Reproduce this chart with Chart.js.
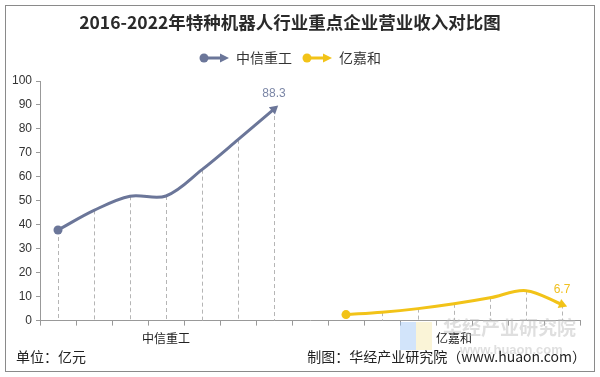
<!DOCTYPE html>
<html>
<head>
<meta charset="utf-8">
<script src="https://cdn.jsdelivr.net/npm/chart.js@4"></script>
<style>
  html, body { margin: 0; padding: 0; background: #fff; }
  #wrap { width: 600px; height: 377px; position: relative; }
</style>
</head>
<body>
<div id="wrap"><canvas id="chart-revenue" width="600" height="377"></canvas></div>
<script>
{ // scoping

  const years = ['2016', '2017', '2018', '2019', '2020', '2021', '2022'];
  const companies = ['中信重工', '亿嘉和'];
  const zxzgValues = [37.8, 46.0, 51.9, 52.0, 63.0, 75.5, 88.3];   // 中信重工
  const yjhValues = [2.5, 3.5, 5.0, 7.0, 9.5, 12.5, 6.7];          // 亿嘉和
  const yTicks = [0, 10, 20, 30, 40, 50, 60, 70, 80, 90, 100];
  const colors = ['#6b7699', '#f2c318'];

  // 15 slots: 7 years, one empty gap, 7 years
  const labels = [];
  years.forEach(y => labels.push(companies[0] + ' ' + y));
  labels.push('');
  years.forEach(y => labels.push(companies[1] + ' ' + y));
  const gap = years.length + 1;

  const zxzgData = zxzgValues.concat(new Array(gap).fill(null));
  const yjhData = new Array(gap).fill(null).concat(yjhValues);

  // rotation of the arrow at the end of a line, from the last two points
  function arrowRotation(ctx) {
    const data = ctx.dataset.data;
    const i = ctx.dataIndex;
    const sx = ctx.chart.scales.x, sy = ctx.chart.scales.y;
    if (!sx || !sy || i < 1 || data[i - 1] == null) return 0;
    const dx = sx.getPixelForValue(i) - sx.getPixelForValue(i - 1);
    const dy = sy.getPixelForValue(data[i]) - sy.getPixelForValue(data[i - 1]);
    return Math.atan2(dy, dx) * 180 / Math.PI + 90;
  }
  function firstIdx(data) { return data.findIndex(v => v != null); }
  function lastIdx(data) { let k = -1; data.forEach((v, j) => { if (v != null) k = j; }); return k; }

  // legend icon: dot, line, arrow head
  function legendIcon(color) {
    const c = document.createElement('canvas');
    c.width = 30; c.height = 12;
    const g = c.getContext('2d');
    g.strokeStyle = color; g.fillStyle = color; g.lineWidth = 3;
    g.beginPath(); g.arc(5, 6, 4.5, 0, Math.PI * 2); g.fill();
    g.beginPath(); g.moveTo(5, 6); g.lineTo(23, 6); g.stroke();
    g.beginPath(); g.moveTo(30, 6); g.lineTo(21, 1.5); g.lineTo(21, 10.5); g.closePath(); g.fill();
    return c;
  }

  // a little more room under the legend
  const legendGap = {
    id: 'legendGap',
    beforeInit(chart) {
      const fit = chart.legend.fit;
      chart.legend.fit = function () {
        fit.call(this);
        this.height += 6;
      };
    }
  };

  const dropLines = {
    id: 'dropLines',
    beforeDatasetsDraw(chart) {
      const g = chart.ctx, bottom = chart.chartArea.bottom;
      g.save();
      g.strokeStyle = '#b5b5b5'; g.lineWidth = 1; g.setLineDash([4, 3]);
      chart.data.datasets.forEach((ds, di) => {
        chart.getDatasetMeta(di).data.forEach((pt, j) => {
          if (ds.data[j] == null) return;
          g.beginPath(); g.moveTo(Math.round(pt.x) + 0.5, pt.y); g.lineTo(Math.round(pt.x) + 0.5, bottom); g.stroke();
        });
      });
      g.restore();
    }
  };

  const endLabels = {
    id: 'endLabels',
    afterDatasetsDraw(chart) {
      const g = chart.ctx;
      g.save();
      g.font = '12px "Liberation Sans", Arial, sans-serif';
      g.textAlign = 'center'; g.textBaseline = 'middle';
      chart.data.datasets.forEach((ds, di) => {
        const j = lastIdx(ds.data);
        const pt = chart.getDatasetMeta(di).data[j];
        g.fillStyle = ds.labelColor;
        g.fillText(String(ds.data[j]), pt.x, pt.y - 15);
      });
      g.restore();
    }
  };

  const frame = {
    id: 'frame',
    afterDraw(chart) {
      const g = chart.ctx;
      g.save();
      // watermark
      g.globalAlpha = 0.45;
      g.fillStyle = '#9cc3f5'; g.fillRect(400, 322, 16, 28);
      g.fillStyle = '#f3e6a6'; g.fillRect(416, 322, 16, 28);
      g.fillStyle = '#b9b9b9';
      g.font = 'bold 19px "Noto Sans CJK SC", sans-serif';
      g.textAlign = 'left'; g.textBaseline = 'middle';
      g.fillText('华经产业研究院', 443, 328);
      g.font = 'bold 13px "Liberation Sans", Arial, sans-serif';
      g.fillText('www.huaon.com', 460, 350);
      g.globalAlpha = 1;
      // footer
      g.fillStyle = '#222';
      g.font = '14px "Noto Sans CJK SC", sans-serif';
      g.textBaseline = 'middle';
      g.textAlign = 'left';
      g.fillText('单位：亿元', 16, 357);
      g.textAlign = 'right';
      g.fillText('制图：华经产业研究院（www.huaon.com）', 586, 357);
      // border
      g.strokeStyle = '#8a8a8a'; g.lineWidth = 1;
      g.strokeRect(5.5, 5.5, 589, 366);
      g.restore();
    }
  };

  function seriesDataset(name, data, color, labelColor) {
    const f = firstIdx(data), l = lastIdx(data);
    return {
      label: name,
      data: data,
      borderColor: color,
      backgroundColor: color,
      borderWidth: 3,
      tension: 0.35,
      spanGaps: false,
      labelColor: labelColor,
      pointStyle: ctx => ctx.dataIndex === l ? 'triangle' : 'circle',
      pointRadius: ctx => ctx.dataIndex === f ? 4.5 : (ctx.dataIndex === l ? 5.5 : 0),
      pointHoverRadius: 0,
      pointRotation: ctx => ctx.dataIndex === l ? arrowRotation(ctx) : 0,
      pointBorderWidth: 0
    };
  }

  const ctx = document.getElementById('chart-revenue').getContext('2d');
  new Chart(ctx, {
    type: 'line',
    data: {
      labels: labels,
      datasets: [
        seriesDataset(companies[0], zxzgData, colors[0], '#7b86a6'),
        seriesDataset(companies[1], yjhData, colors[1], '#f0c020')
      ]
    },
    options: {
      responsive: false,
      animation: false,
      layout: { padding: { left: 0, right: 20, top: 0, bottom: 25 } },
      plugins: {
        title: {
          display: true,
          text: '2016-2022年特种机器人行业重点企业营业收入对比图',
          color: '#2a2a2a',
          font: { family: '"Noto Sans CJK SC", sans-serif', size: 17.5, weight: 'bold' },
          padding: { top: 12, bottom: 8 }
        },
        legend: {
          display: true,
          labels: {
            usePointStyle: true,
            pointStyleWidth: 30,
            color: '#333',
            font: { family: '"Noto Sans CJK SC", sans-serif', size: 14 },
            padding: 10,
            generateLabels(chart) {
              return chart.data.datasets.map((ds, i) => ({
                text: ds.label,
                pointStyle: legendIcon(ds.borderColor),
                fillStyle: ds.borderColor,
                strokeStyle: ds.borderColor,
                lineWidth: 0,
                fontColor: '#333',
                datasetIndex: i
              }));
            }
          }
        },
        tooltip: { enabled: false }
      },
      scales: {
        x: {
          offset: true,
          grid: { offset: true, drawOnChartArea: false, tickLength: 5, color: '#999' },
          border: { color: '#999' },
          ticks: {
            autoSkip: false,
            maxRotation: 0,
            padding: 6,
            color: '#222',
            font: { family: '"Noto Sans CJK SC", sans-serif', size: 12 },
            callback: (v, i) => i === 3 ? companies[0] : (i === gap + 3 ? companies[1] : '')
          }
        },
        y: {
          min: yTicks[0],
          max: yTicks[yTicks.length - 1],
          afterFit: scale => { scale.width = 40; },
          afterBuildTicks: scale => { scale.ticks = yTicks.map(v => ({ value: v })); },
          grid: { drawOnChartArea: false, tickLength: 4, color: '#999' },
          border: { color: '#999' },
          ticks: {
            padding: 4,
            color: '#333',
            font: { family: '"Liberation Sans", Arial, sans-serif', size: 12 }
          }
        }
      }
    },
    plugins: [legendGap, dropLines, endLabels, frame]
  });

} // scoping
</script>
</body>
</html>
